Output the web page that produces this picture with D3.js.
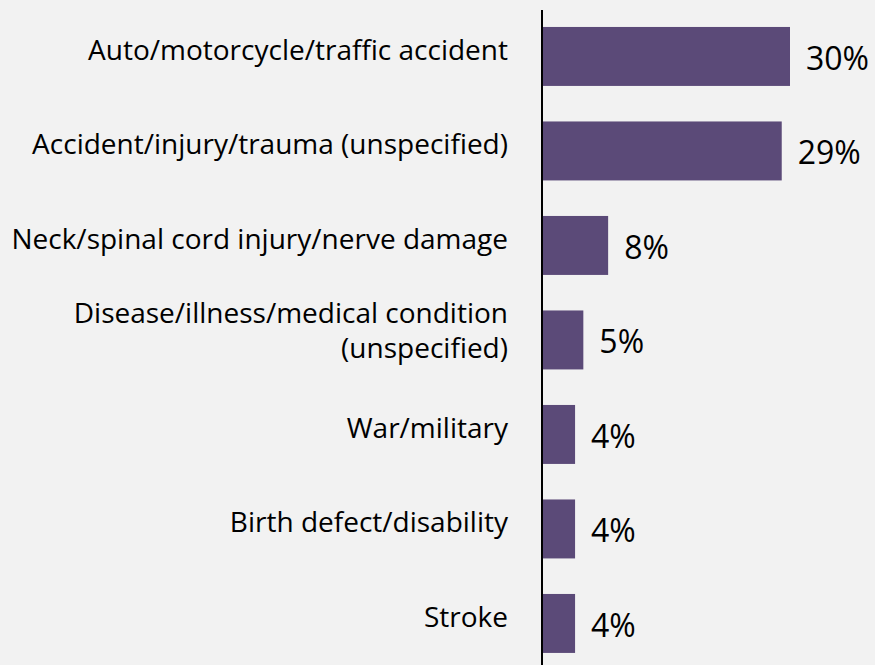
<!DOCTYPE html>
<html>
<head>
<meta charset="utf-8">
<script src="https://cdn.jsdelivr.net/npm/d3@7"></script>
<style>
  html, body { margin: 0; padding: 0; background: #f2f2f2; }
  svg { display: block; font-family: "Open Sans", sans-serif; }
</style>
</head>
<body>
<div id="chart"></div>
<script>
// categories (multi-line labels split with \n)
const categories = [
  'Auto/motorcycle/traffic accident',
  'Accident/injury/trauma (unspecified)',
  'Neck/spinal cord injury/nerve damage',
  'Disease/illness/medical condition\n(unspecified)',
  'War/military',
  'Birth defect/disability',
  'Stroke'
];
const values = [30, 29, 8, 5, 4, 4, 4];
const valueLabels = ['30%', '29%', '8%', '5%', '4%', '4%', '4%'];

const width = 875, height = 665;
const axisX = 542;

const svg = d3.select('#chart').append('svg')
  .attr('width', width)
  .attr('height', height);

svg.append('rect').attr('width', width).attr('height', height).attr('fill', '#f2f2f2');

const x = d3.scaleLinear().domain([0, 30]).range([axisX, 790]);

const y = d3.scaleBand()
  .domain(categories)
  .range([9.2, 670.7])
  .paddingInner(0.376)
  .paddingOuter(0.188);

const data = categories.map((c, i) => ({ cat: c, value: values[i], label: valueLabels[i] }));

// bars
svg.append('g').selectAll('rect')
  .data(data)
  .join('rect')
  .attr('x', x(0))
  .attr('y', d => y(d.cat))
  .attr('width', d => x(d.value) - x(0))
  .attr('height', y.bandwidth())
  .attr('fill', '#5b4a78');

// value labels
svg.append('g').selectAll('text')
  .data(data)
  .join('text')
  .attr('x', d => x(d.value) + 16)
  .attr('y', d => y(d.cat) + y.bandwidth() / 2 + 1)
  .attr('dominant-baseline', 'central')
  .attr('font-size', 32)
  .attr('fill', '#000')
  .text(d => d.label);

// category labels
const lineH = 35;
const catLabels = svg.append('g').selectAll('text')
  .data(data)
  .join('text')
  .attr('text-anchor', 'end')
  .attr('font-size', 28)
  .attr('fill', '#000');

catLabels.each(function (d) {
  const lines = d.cat.split('\n');
  const cy = y(d.cat) + y.bandwidth() / 2;
  const startY = cy + 3.5 - (lines.length - 1) * (lineH / 2 + 2.5);
  d3.select(this).selectAll('tspan')
    .data(lines)
    .join('tspan')
    .attr('x', 508)
    .attr('y', (l, i) => startY + i * lineH)
    .text(l => l);
});

// vertical axis line
const axis = d3.axisLeft(y).tickSize(0).tickSizeOuter(0).tickFormat('');
const ag = svg.append('g').attr('transform', `translate(${axisX},0)`).call(axis);
ag.select('.domain').attr('stroke', '#000').attr('stroke-width', 2)
  .attr('d', `M0,10V${height}`);
</script>
</body>
</html>
